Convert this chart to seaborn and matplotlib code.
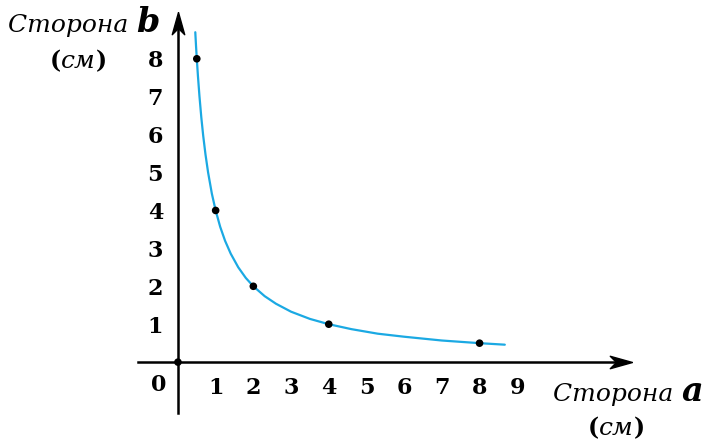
import numpy as np
import pandas as pd
import matplotlib
matplotlib.use('Agg')
import matplotlib.pyplot as plt
import matplotlib.transforms as mtransforms
import seaborn as sns

# points marked on the chart (side a, side b)
point_a = [0, 0.5, 1, 2, 4, 8]
point_b = [0, 8, 4, 2, 1, 0.5]

# curve
curve_a = [0.46, 0.48, 0.5, 0.53, 0.57, 0.62, 0.67, 0.73, 0.8, 0.9, 1.0, 1.12, 1.25, 1.4,
           1.6, 1.8, 2.0, 2.3, 2.6, 3.0, 3.5, 4.0, 4.6, 5.3, 6.0, 7.0, 8.0, 8.67]
curve_b = [8.70, 8.33, 8.0, 7.55, 7.02, 6.45, 5.97, 5.48, 5.0, 4.44, 4.0, 3.57, 3.2, 2.86,
           2.5, 2.22, 2.0, 1.74, 1.54, 1.33, 1.14, 1.0, 0.87, 0.75, 0.67, 0.57, 0.5, 0.46]

x_ticks = [1, 2, 3, 4, 5, 6, 7, 8, 9, 10, 11]
x_tick_labels = ['1', '2', '3', '4', '5', '6', '7', '8', '9', '', '']
y_ticks = [1, 2, 3, 4, 5, 6, 7, 8]
y_tick_labels = ['1', '2', '3', '4', '5', '6', '7', '8']

curve = pd.DataFrame({'a': curve_a, 'b': curve_b})
points = pd.DataFrame({'a': point_a, 'b': point_b})

sns.set_style('white')
plt.rcParams['font.family'] = ['DejaVu Serif']
plt.rcParams['text.color'] = 'black'

fig = plt.figure(figsize=(7.05, 4.41), dpi=100)
ax = fig.add_axes([0, 0, 1, 1])
ax.set_xlim(-4.72, 13.98)
ax.set_ylim(-2.08, 9.55)

sns.lineplot(data=curve, x='a', y='b', color='#1ba9e3', lw=1.6, sort=False, ax=ax)
sns.scatterplot(data=points, x='a', y='b', color='black', s=30, edgecolor='none', zorder=5, ax=ax)

# axes through the origin
for side in ['top', 'right']:
    ax.spines[side].set_visible(False)
ax.spines['bottom'].set_position(('data', 0))
ax.spines['left'].set_position(('data', 0))
ax.spines['bottom'].set_bounds(-1.05, 11.8)
ax.spines['left'].set_bounds(-1.35, 9.0)
for side in ['bottom', 'left']:
    ax.spines[side].set_linewidth(1.8)
    ax.spines[side].set_color('black')

ax.set_xticks(x_ticks)
ax.set_xticklabels(x_tick_labels)
ax.set_yticks(y_ticks)
ax.set_yticklabels(y_tick_labels)
ax.tick_params(direction='inout', length=9.5, width=1.3, color='black', pad=6,
               labelsize=16, labelcolor='black')
for lab in ax.get_xticklabels() + ax.get_yticklabels():
    lab.set_fontweight('bold')
ax.set_xlabel('')
ax.set_ylabel('')

# arrow heads
right_head = [(0, 0), (-1, 0.28), (-0.72, 0), (-1, -0.28), (0, 0)]
up_head = [(0, 0), (0.28, -1), (0, -0.72), (-0.28, -1), (0, 0)]
ax.plot([12.04], [0], marker=right_head, markersize=32, color='black', clip_on=False)
ax.plot([0], [9.23], marker=up_head, markersize=32, color='black', clip_on=False)

# origin label
ax.text(-0.5, -0.6, '0', fontsize=16, fontweight='bold', ha='center', va='center')

renderer = fig.canvas.get_renderer()


def text_run(x, y, pieces):
    # write pieces one after another on the same baseline
    dx = 0
    for s, kw in pieces:
        tr = mtransforms.offset_copy(ax.transData, fig=fig, x=dx, y=0, units='dots')
        t = ax.text(x, y, s, transform=tr, ha='left', va='baseline', **kw)
        dx += t.get_window_extent(renderer).width


word = dict(fontsize=18, style='italic')
letter = dict(fontsize=24, style='italic', fontweight='bold')
paren = dict(fontsize=17, fontweight='bold')
unit = dict(fontsize=18, style='italic')

text_run(-4.51, 8.71, [('Сторона ', word), ('b', letter)])
text_run(-3.40, 7.76, [('(', paren), ('см', unit), (')', paren)])
text_run(9.95, -1.03, [('Сторона ', word), ('a', letter)])
text_run(10.88, -1.93, [('(', paren), ('см', unit), (')', paren)])

plt.savefig('out.png', dpi=100)
